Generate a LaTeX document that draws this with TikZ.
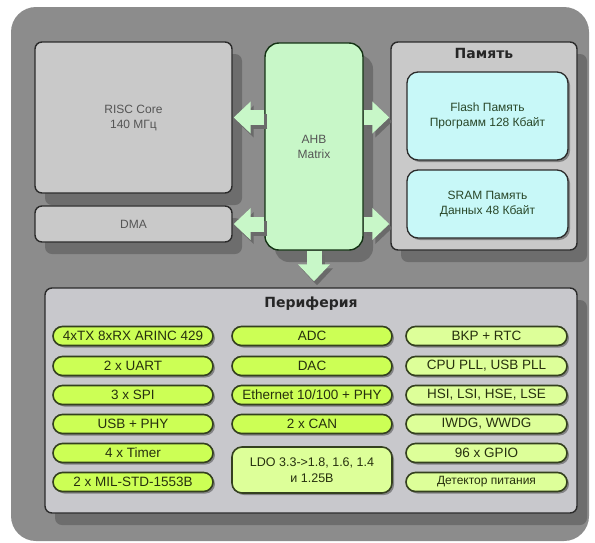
\documentclass[tikz,border=0pt]{standalone}
\usepackage{fontspec}
\setmainfont{Liberation Sans}
\newfontfamily\titlefont{DejaVu Sans}
\usetikzlibrary{shadows,arrows.meta,calc,shapes.misc}

\definecolor{outerbg}{HTML}{8C8C8C}
\definecolor{boxgray}{HTML}{C9C9C9}
\definecolor{perigray}{HTML}{C8C8CC}
\definecolor{ahbgreen}{HTML}{C8F7C8}
\definecolor{flashcyan}{HTML}{C8F8F8}
\definecolor{pillA}{HTML}{CCFF55}
\definecolor{pillB}{HTML}{DDFF99}
\definecolor{pilledge}{HTML}{34401F}
\definecolor{boxedge}{HTML}{2B2B2B}
\definecolor{txtgray}{HTML}{555555}
\definecolor{pilltxt}{HTML}{26300E}
\definecolor{busshade}{HTML}{6A6A6A}

\begin{document}
\begin{tikzpicture}[x=1pt,y=-1pt,
  bigshadow/.style={drop shadow={shadow xshift=10pt,shadow yshift=-12pt,fill=black,opacity=0.22}},
  smallshadow/.style={drop shadow={shadow xshift=2pt,shadow yshift=-2pt,fill=black,opacity=0.35}},
  graybox/.style={draw=boxedge,line width=1.4pt,fill=boxgray,rounded corners=7pt,inner sep=0pt,
    align=center,text=txtgray,font=\fontsize{12}{15}\selectfont,bigshadow},
  ahbbox/.style={draw=boxedge!80!green!60!black,line width=1.4pt,fill=ahbgreen,rounded corners=14pt,inner sep=0pt,
    align=center,text=txtgray,font=\fontsize{12}{15}\selectfont,bigshadow},
  cyanbox/.style={draw=boxedge,line width=1.3pt,fill=flashcyan,rounded corners=11pt,inner sep=0pt,
    align=center,text=txtgray!80!green!60!black,font=\fontsize{12}{15}\selectfont,smallshadow},
  titletext/.style={font=\titlefont\fontsize{14}{16}\bfseries\selectfont,text=black!85,inner sep=0pt},
  pill/.style={rounded rectangle,draw=pilledge,line width=1.6pt,fill=pillA,minimum width=160pt,
    minimum height=19pt,inner sep=0pt,font=\fontsize{13.5}{15}\selectfont,text=pilltxt,smallshadow},
  pillc/.style={pill,fill=pillB,minimum width=161pt},
  ldobox/.style={draw=pilledge,line width=1.6pt,fill=pillB,rounded corners=10pt,inner sep=0pt,
    minimum width=160pt,minimum height=46pt,align=center,text=pilltxt,
    font=\fontsize{12.5}{16}\selectfont,smallshadow},
  bus/.style={line width=15pt,draw=ahbgreen,-{Triangle[length=17pt,width=31pt]}},
  busshadow/.style={line width=15pt,draw=busshade,-{Triangle[length=17pt,width=31pt]},
    transform canvas={shift={(3pt,-4pt)}}}
]
\useasboundingbox (0,0) rectangle (595,542);
\fill[outerbg,rounded corners=25pt] (11,7) rectangle (589,541);

% main blocks
\node[graybox,minimum width=197pt,minimum height=151pt] (risc) at (133.5,117.5) {RISC Core\\140 МГц};
\node[graybox,minimum width=197pt,minimum height=36pt] (dma) at (133.5,224) {DMA};
\node[ahbbox,minimum width=98pt,minimum height=207pt] (ahb) at (314,146.5) {AHB\\Matrix};
\node[graybox,minimum width=186pt,minimum height=208pt] (mem) at (484,146) {};
\node[titletext] (memt) at (484,53) {Память};
\node[cyanbox,minimum width=161pt,minimum height=88pt] (flash) at (487.5,116) {Flash Память\\Программ 128 Кбайт};
\node[cyanbox,minimum width=161pt,minimum height=68pt] (sram) at (487.5,204) {SRAM Память\\Данных 48 Кбайт};
\node[graybox,fill=perigray,minimum width=532pt,minimum height=225pt] (peri) at (311,400.5) {};
\node[titletext] (perit) at (311,304) {Периферия};

% bus arrows
\coordinate (l1) at (ahb.west |- risc.east);
\coordinate (l2) at (ahb.west |- dma.east);
\coordinate (r1) at (ahb.east |- risc.east);
\coordinate (r2) at (ahb.east |- dma.east);
\coordinate (m1) at (mem.west |- risc.east);
\coordinate (m2) at (mem.west |- dma.east);
\coordinate (pt) at (peri.north -| ahb.south);
\foreach \s/\t in {l1/risc.east, l2/dma.east, r1/m1, r2/m2}{
  \draw[busshadow,shorten >=1pt] (\s) -- (\t);
}
\draw[busshadow,shorten >=6pt] (ahb.south) -- (pt);
\foreach \s/\t in {l1/risc.east, l2/dma.east, r1/m1, r2/m2}{
  \draw[bus,shorten >=1pt] (\s) -- (\t);
}
\draw[bus,shorten >=6pt] (ahb.south) -- (pt);

% periphery column 1
\node[pill] (p11) at (133,336) {4xTX 8xRX ARINC 429};
\node[pill] (p12) at (133,366) {2 x UART};
\node[pill] (p13) at (133,395) {3 x SPI};
\node[pill] (p14) at (133,424) {USB + PHY};
\node[pill] (p15) at (133,453) {4 x Timer};
\node[pill] (p16) at (133,482) {2 x MIL-STD-1553B};
% column 2
\node[pill] (p21) at (312,336) {ADC};
\node[pill] (p22) at (312,366) {DAC};
\node[pill] (p23) at (312,395) {Ethernet 10/100 + PHY};
\node[pill] (p24) at (312,424) {2 x CAN};
\node[ldobox] (p25) at (312,470) {LDO 3.3->1.8, 1.6, 1.4\\и 1.25В};
% column 3
\node[pillc] (p31) at (486.5,336) {BKP + RTC};
\node[pillc] (p32) at (486.5,366) {CPU PLL, USB PLL};
\node[pillc] (p33) at (486.5,395) {HSI, LSI, HSE, LSE};
\node[pillc] (p34) at (486.5,424) {IWDG, WWDG};
\node[pillc] (p35) at (486.5,453) {96 x GPIO};
\node[pillc,font=\fontsize{12}{14}\selectfont] (p36) at (486.5,482) {Детектор питания};
\end{tikzpicture}
\end{document}
